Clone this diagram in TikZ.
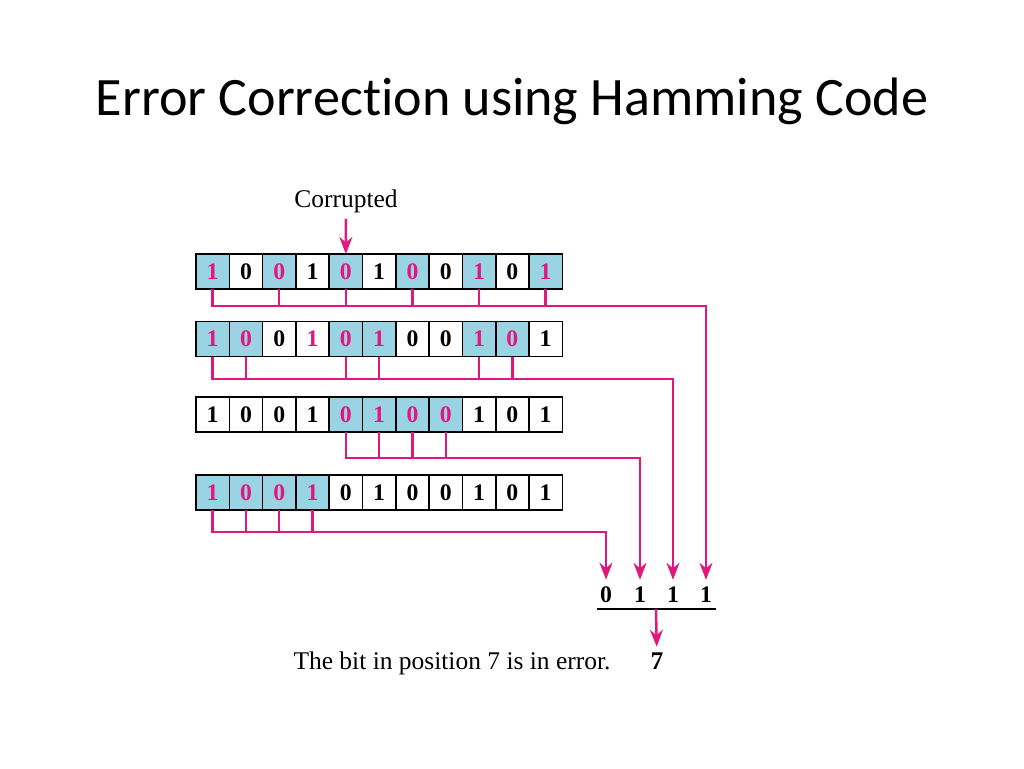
\documentclass[tikz,border=0pt]{standalone}
\usepackage{fontspec}
\setmainfont{Liberation Serif}
\newfontfamily\titlefont[Ligatures=NoCommon]{Carlito}
\usetikzlibrary{positioning,arrows.meta}
\definecolor{parityBg}{HTML}{9AD4E4}
\definecolor{parityFg}{HTML}{E2177C}

\begin{document}
\begin{tikzpicture}[
  x=0.02cm, y=-0.02cm,
  every node/.style={font=\fontsize{14.5}{17}\selectfont},
  bitcell/.style={draw=black, line width=0.9pt, fill=white, outer sep=0pt,
                  inner sep=0pt, minimum width=0.666cm, minimum height=0.7cm,
                  font=\fontsize{13.5}{15}\selectfont\bfseries},
  checked/.style={fill=parityBg, text=parityFg},
  rail/.style={parityFg, line width=1.4pt},
  arr/.style={rail, -{Stealth[length=3.4mm,width=2.6mm]}},
  result/.style={font=\fontsize{13.5}{15}\selectfont\bfseries, inner sep=1pt}
]
  \useasboundingbox (0,0) rectangle (1024,768);

  % Title
  \node (title) at (512,101) {\titlefont\fontsize{30.8}{37}\selectfont Error Correction using Hamming Code};

  % Four copies of the received word; shaded cells are the ones each check covers
  \foreach \r/\yy in {1/271.5, 2/339, 3/414.5, 4/492.5} {
    \foreach \b [count=\c] in {1,0,0,1,0,1,0,0,1,0,1} {
      \pgfmathtruncatemacro\chk{mod(floor((12-\c)/2^(\r-1)),2)}
      \ifnum\chk=1 \tikzset{cellkind/.style=checked}\else\tikzset{cellkind/.style={}}\fi
      \node[bitcell, cellkind] (r\r c\c) at ({196+33.3*(\c-0.5)},\yy) {\b};
    }
  }
  \node[bitcell, text=parityFg] (r2c4) at (r2c4) {1};

  % Corrupted bit
  \node (corr) at (346,201) {Corrupted};
  \draw[arr] (corr) -- (r1c5.north);

  % Check results
  \node[result] (d1) at (606,595) {0};
  \node[result] (d2) at (640,595) {1};
  \node[result] (d3) at (673,595) {1};
  \node[result] (d4) at (706,595) {1};
  \draw[line width=0.9pt] (597,609) -- (716,609);
  \coordinate (sum) at (656,609);

  % Rails: row 1 -> d4, row 2 -> d3, row 3 -> d2, row 4 -> d1
  \coordinate (k1) at (706,306);
  \draw[arr, shorten >=3pt] (r1c1.south) |- (k1) -- (d4);
  \foreach \c in {3,5,7,9,11} \draw[rail] (r1c\c.south) -- (r1c\c.south |- k1);

  \coordinate (k2) at (673,379);
  \draw[arr, shorten >=3pt] (r2c1.south) |- (k2) -- (d3);
  \foreach \c in {2,5,6,9,10} \draw[rail] (r2c\c.south) -- (r2c\c.south |- k2);

  \coordinate (k3) at (640,458);
  \draw[arr, shorten >=3pt] (r3c5.south) |- (k3) -- (d2);
  \foreach \c in {6,7,8} \draw[rail] (r3c\c.south) -- (r3c\c.south |- k3);

  \coordinate (k4) at (606,532);
  \draw[arr, shorten >=3pt] (r4c1.south) |- (k4) -- (d1);
  \foreach \c in {2,3,4} \draw[rail] (r4c\c.south) -- (r4c\c.south |- k4);

  % Syndrome
  \node[anchor=base] (msg) at (452,669) {The bit in position 7 is in error.};
  \node[result, anchor=base, font=\fontsize{14.5}{17}\selectfont\bfseries] (res) at (657,669) {7};
  \draw[arr, shorten >=2pt] (sum) -- (res);
\end{tikzpicture}
\end{document}
